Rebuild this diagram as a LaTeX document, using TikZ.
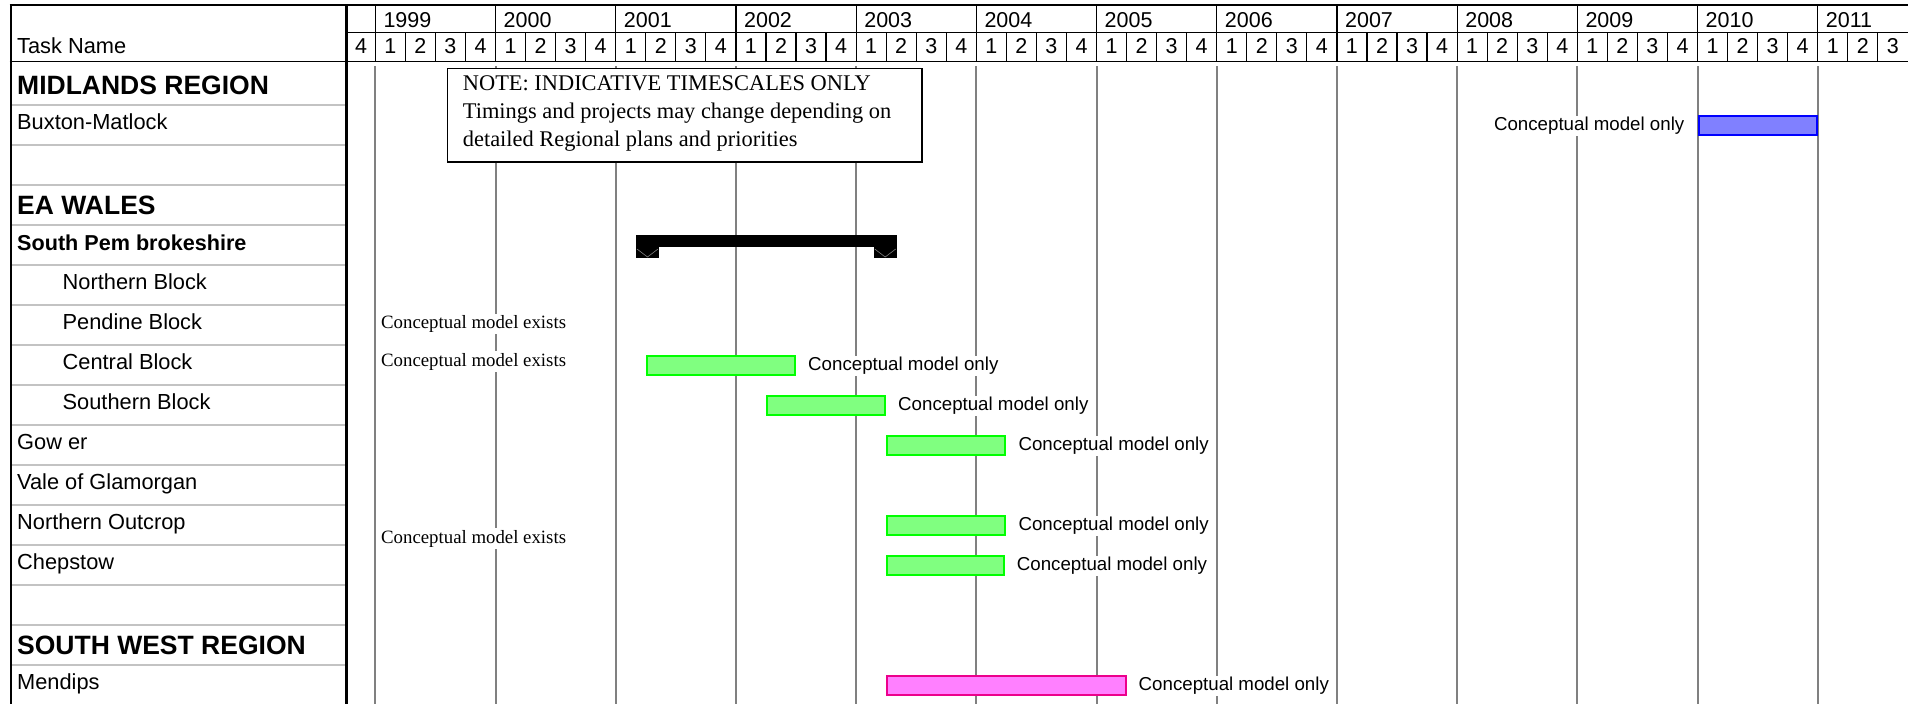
\documentclass[tikz,border=0pt]{standalone}
\usepackage{fontspec}
\setmainfont{Liberation Sans}
\newfontfamily\notefont{Liberation Serif}
\usepackage{tikz}
\usetikzlibrary{positioning}
\definecolor{bluefill}{RGB}{128,128,255}
\definecolor{greenfill}{RGB}{128,255,128}
\definecolor{pinkfill}{RGB}{255,128,255}
\definecolor{gridgray}{RGB}{128,128,128}
\definecolor{rowgray}{RGB}{195,195,195}

\begin{document}
\begin{tikzpicture}[x=1pt,y=-1pt,
    region/.style={anchor=base west,yshift=-9pt,inner sep=0pt,font=\fontsize{26.5}{30}\selectfont\bfseries},
    task/.style={anchor=base west,yshift=-4pt,inner sep=0pt,font=\fontsize{21.8}{25}\selectfont},
    hdr/.style={anchor=base,inner sep=0pt,font=\fontsize{21.5}{24}\selectfont},
    bar/.style={draw,line width=2pt,minimum height=19pt,inner sep=0pt},
    greenbar/.style={bar,draw=green,fill=greenfill},
    bluebar/.style={bar,draw=blue,fill=bluefill},
    pinkbar/.style={bar,draw=magenta,fill=pinkfill},
    onlynote/.style={fill=white,inner sep=1.5pt,font=\fontsize{18.7}{22}\selectfont},
    existsnote/.style={anchor=base west,fill=white,inner sep=1.5pt,font=\notefont\fontsize{18.8}{22}\selectfont},
    notetext/.style={anchor=base west,inner sep=0pt,font=\notefont\fontsize{22.4}{28}\selectfont},
    gridline/.style={draw=gridgray,line width=2pt}]
\fill[white] (0,0) rectangle (1908,704);
\useasboundingbox (0,0) rectangle (1908,704);

% year lines of the chart
\foreach \i in {0,...,12}
  \draw[gridline] (375.3+120.2*\i,66) -- (375.3+120.2*\i,704);

% row lines of the task column
\foreach \k in {1,...,15}
  \draw[rowgray,line width=2.5pt] (11.5,65+40*\k) -- (345.5,65+40*\k);

% header
\draw[line width=1.5pt] (9.5,5) -- (1908,5);
\draw[line width=1.5pt] (346.7,32.5) -- (1908,32.5);
\draw[line width=1.5pt] (9.5,61.5) -- (1908,61.5);
\foreach \i in {0,...,12}
  \draw[line width=1.2pt] (375.3+120.2*\i,5) -- (375.3+120.2*\i,61.5);
\foreach \j in {1,...,50}
  \draw[line width=1.2pt] (375.3+30.05*\j,32.5) -- (375.3+30.05*\j,61.5);
\draw[line width=2pt] (10.5,5) -- (10.5,704);
\draw[line width=2.5pt] (346.7,5) -- (346.7,704);

\node[task] (taskname) at (17,49.5) {Task Name};
\foreach \yr [count=\i from 0] in {1999,...,2011}
  \node[hdr,anchor=base west] (y\yr) at (383.3+120.2*\i,27.5) {\yr};
\node[hdr] (q0) at (361,53.5) {4};
\foreach \j in {1,...,51} {
  \pgfmathtruncatemacro\qn{mod(\j-1,4)+1}
  \node[hdr] (q\j) at (360.3+30.05*\j,53.5) {\qn};
}

% task names
\node[region] (midlands) at (17,85) {MIDLANDS REGION};
\node[task] (buxton) at (17,125) {Buxton-Matlock};
\node[region] (eawales) at (17,205) {EA WALES};
\node[task,font=\fontsize{21.6}{26}\selectfont\bfseries,yshift=-1pt] (pembroke) at (17,245) {South Pem brokeshire};
\node[task] (northern) at (62.5,285) {Northern Block};
\node[task] (pendine) at (62.5,325) {Pendine Block};
\node[task] (central) at (62.5,365) {Central Block};
\node[task] (southern) at (62.5,405) {Southern Block};
\node[task] (gower) at (17,445) {Gow er};
\node[task] (vale) at (17,485) {Vale of Glamorgan};
\node[task] (outcrop) at (17,525) {Northern Outcrop};
\node[task] (chepstow) at (17,565) {Chepstow};
\node[region] (southwest) at (17,645) {SOUTH WEST REGION};
\node[task] (mendips) at (17,685) {Mendips};

% bars
\node[bluebar,minimum width=118.2pt] (buxtonbar) at (1757.6,125.8) {};
\node[onlynote,left=11.5pt of buxtonbar] (buxtonnote) {Conceptual model only};

\fill (636,235) rectangle (896.7,247.3);
\fill (636,235) rectangle (659,257.7);
\fill (873.7,235) rectangle (896.7,257.7);
\draw[gray,line width=0.6pt] (637,249) -- (647.5,257) -- (658,249);
\draw[gray,line width=0.6pt] (874.7,249) -- (885.2,257) -- (895.7,249);

\node[greenbar,minimum width=148.2pt] (centralbar) at (720.9,365.8) {};
\node[onlynote,right=10.5pt of centralbar] (centralonly) {Conceptual model only};
\node[greenbar,minimum width=118pt] (southernbar) at (826,405.8) {};
\node[onlynote,right=10.5pt of southernbar] (southernonly) {Conceptual model only};
\node[greenbar,minimum width=118.2pt] (gowerbar) at (946.2,445.8) {};
\node[onlynote,right=10.5pt of gowerbar] (goweronly) {Conceptual model only};
\node[greenbar,minimum width=118.2pt] (outcropbar) at (946.2,525.8) {};
\node[onlynote,right=10.5pt of outcropbar] (outcroponly) {Conceptual model only};
\node[greenbar,minimum width=116.5pt] (chepstowbar) at (945.4,565.8) {};
\node[onlynote,right=10.5pt of chepstowbar] (chepstowonly) {Conceptual model only};
\node[pinkbar,minimum width=238.4pt] (mendipsbar) at (1006.3,685.8) {};
\node[onlynote,right=10.5pt of mendipsbar] (mendipsonly) {Conceptual model only};

\node[existsnote] (pendineexists) at (379.5,328.7) {Conceptual model exists};
\node[existsnote] (centralexists) at (379.5,366) {Conceptual model exists};
\node[existsnote] (outcropexists) at (379.5,543) {Conceptual model exists};

% note
\node[draw,line width=1.5pt,fill=white,minimum width=474.5pt,minimum height=93.8pt,inner sep=0pt] (note) at (684.7,115.3) {};
\node[notetext] (note1) at (462.7,90) {NOTE: INDICATIVE TIMESCALES ONLY};
\node[notetext] (note2) at (462.7,118.3) {Timings and projects may change depending on};
\node[notetext] (note3) at (462.7,146.3) {detailed Regional plans and priorities};
\end{tikzpicture}
\end{document}
